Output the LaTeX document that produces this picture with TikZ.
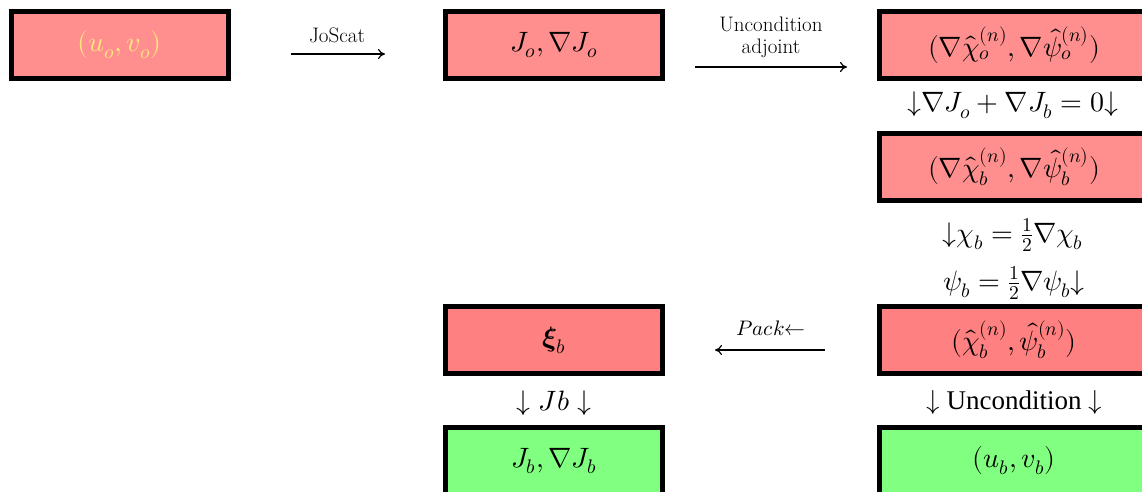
\documentclass[tikz,border=0pt]{standalone}
\usepackage{amsmath}
\usepackage{fontspec}
\usepackage{unicode-math}
\setmathfont{Latin Modern Math}
\newfontfamily\timesf{Liberation Serif}
\usetikzlibrary{arrows.meta}
\definecolor{boxpink}{HTML}{FF8F8F}
\definecolor{boxpinkb}{HTML}{FF8080}
\definecolor{boxgreen}{HTML}{80FF80}
\definecolor{txtyellow}{HTML}{FFE680}
\newcommand{\dn}{\mathord{\downarrow}}
\begin{document}
\begin{tikzpicture}[x=1pt,y=-1pt,
  box/.style={draw=black, line width=5pt, minimum width=217pt, minimum height=67pt, inner sep=0pt, font=\fontsize{28}{32}\selectfont},
  widebox/.style={box, minimum width=269pt},
  lbl/.style={inner sep=0pt, font=\fontsize{21}{22}\selectfont},
  big/.style={inner sep=0pt, font=\fontsize{28}{32}\selectfont},
  arr/.style={-{To[length=7pt,width=10pt]}, line width=1.2pt}]
\useasboundingbox (0,0) rectangle (1142,491);
\clip (0,0) rectangle (1142,491);
% boxes
\node[box, fill=boxpink, text=txtyellow] (uo) at (119.5,45) {$(u_o,v_o)$};
\node[box, fill=boxpink] (jo) at (554,45) {$J_o,\nabla J_o$};
\node[widebox, fill=boxpink] (go) at (1014,45) {$(\nabla\hat{\chi}_o^{(n)},\nabla\hat{\psi}_o^{(n)})$};
\node[widebox, fill=boxpink] (gb) at (1014,167) {$(\nabla\hat{\chi}_b^{(n)},\nabla\hat{\psi}_b^{(n)})$};
\node[widebox, fill=boxpinkb] (hb) at (1014,340) {$(\hat{\chi}_b^{(n)},\hat{\psi}_b^{(n)})$};
\node[widebox, fill=boxgreen] (ub) at (1014,461) {$(u_b,v_b)$};
\node[box, fill=boxpinkb] (xi) at (554,340) {$\symbfit{\xi}_b$};
\node[box, fill=boxgreen] (jb) at (554,461) {$J_b,\nabla J_b$};
% horizontal connectors
\draw[arr, shorten <=60pt, shorten >=58pt] ([yshift=-9pt]uo.east) -- ([yshift=-9pt]jo.west);
\node[lbl] (l1) at (337,35) {JoScat};
\draw[arr, shorten <=30pt, shorten >=30pt] ([yshift=-22pt]jo.east) -- ([yshift=-22pt]go.west);
\node[lbl, align=center] (l2) at (771,37) {Uncondition\\adjoint};
\draw[arr, shorten <=52pt, shorten >=50pt] ([yshift=-10pt]hb.west) -- ([yshift=-10pt]xi.east);
\node[lbl] (l3) at (771,328) {$Pack{\leftarrow}$};
% vertical step labels
\node[big] (v1) at (1013,105) {$\dn\nabla J_o+\nabla J_b=0\dn$};
\node[big] (v2) at (1013,235) {$\dn\chi_b=\tfrac{1}{2}\nabla\chi_b$};
\node[big] (v3) at (1014,283) {$\psi_b=\tfrac{1}{2}\nabla\psi_b\dn$};
\node[big, font=\fontsize{27}{30}\selectfont\timesf] (v4) at (1014,402) {$\downarrow$ Uncondition $\downarrow$};
\node[big] (v5) at (554,403) {$\dn\;Jb\;\dn$};
\end{tikzpicture}
\end{document}
